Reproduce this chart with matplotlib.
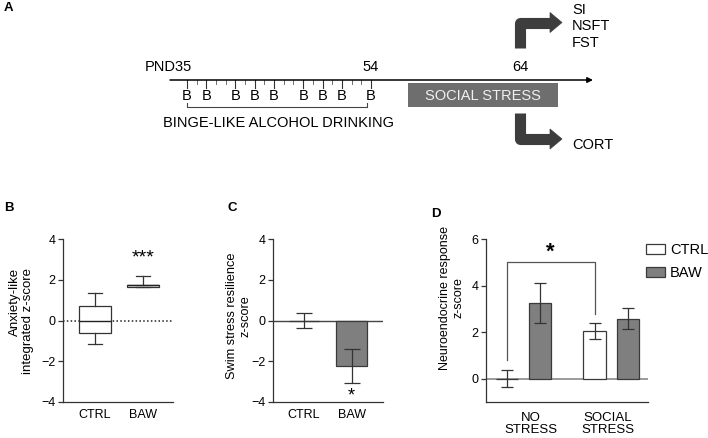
import matplotlib
matplotlib.use("Agg")
import matplotlib.pyplot as plt
from matplotlib.patches import Rectangle, Polygon, Patch
import numpy as np

plt.rcParams['font.family'] = ['Liberation Sans', 'DejaVu Sans']

# ---------------- data ----------------
# Panel A timeline
all_days = list(range(35, 55))
binge_days = [35, 37, 40, 42, 44, 47, 49, 51, 54]
timeline_labels = ["PND35", "54", "64"]
outcomes_top = ["SI", "NSFT", "FST"]
outcomes_bottom = ["CORT"]

# Panel B (box plot stats)
b_groups = ["CTRL", "BAW"]
b_med = [0.0, 1.72]
b_q1 = [-0.61, 1.64]
b_q3 = [0.71, 1.76]
b_lo = [-1.15, 1.62]
b_hi = [1.35, 2.18]

# Panel C
c_groups = ["CTRL", "BAW"]
c_mean = [0.0, -2.23]
c_sem = [0.37, 0.83]

# Panel D
d_groups = ["NO\nSTRESS", "SOCIAL\nSTRESS"]
d_ctrl_mean = [0.0, 2.04]
d_ctrl_sem = [0.37, 0.35]
d_baw_mean = [3.24, 2.58]
d_baw_sem = [0.86, 0.45]

GRAY = "#7f7f7f"
EDGE = "#3a3a3a"

fig = plt.figure(figsize=(7.08, 4.38), dpi=100)

# ---------------- Panel A (schematic) ----------------
axA = fig.add_axes([0, 1 - 200 / 438, 1, 200 / 438])
axA.set_xlim(0, 708)
axA.set_ylim(200, 0)
axA.axis("off")


def day_x(d):
    # schematic (not to scale) mapping of postnatal day to horizontal position
    if d <= 54:
        return 187 + (d - 35) * 9.68
    return 371 + (d - 54) * 14.9


FS_A = 10.5
line_y = 80
axA.annotate("", xy=(593, line_y), xytext=(170, line_y),
             arrowprops=dict(arrowstyle="-|>", lw=1.1, color="black",
                             mutation_scale=8, shrinkA=0, shrinkB=0))
for d in all_days:
    if d in binge_days:
        axA.plot([day_x(d)] * 2, [line_y, line_y + 8], color="#333333", lw=0.8)
        axA.text(day_x(d), 95.5, "B", ha="center", va="center", fontsize=FS_A)
    else:
        axA.plot([day_x(d)] * 2, [line_y, line_y + 4], color="#555555", lw=0.6)

axA.text(145, 67, timeline_labels[0], ha="left", va="center", fontsize=FS_A)
axA.text(day_x(54), 67, timeline_labels[1], ha="center", va="center", fontsize=FS_A)
axA.text(day_x(64), 67, timeline_labels[2], ha="center", va="center", fontsize=FS_A)

bx0, bx1 = day_x(35), day_x(54) - 4
axA.plot([bx0, bx0, bx1, bx1], [103, 107, 107, 103], color="#444444", lw=0.8)
axA.text((bx0 + bx1) / 2 + 2, 123, "BINGE-LIKE ALCOHOL DRINKING",
         ha="center", va="center", fontsize=FS_A)

axA.add_patch(Rectangle((408, 83), 150, 24, facecolor="#6e6e6e", edgecolor="none"))
axA.text(483, 95.5, "SOCIAL STRESS", ha="center", va="center", fontsize=FS_A,
         color="#f0f0f0")

AR = "#3d3d3d"
ex = day_x(64)
axA.plot([ex, ex, 551], [48, 22.5, 22.5], color=AR, lw=8,
         solid_joinstyle="round", solid_capstyle="butt")
axA.add_patch(Polygon([[550, 12.5], [562, 22.5], [550, 32.5]], closed=True,
                      facecolor=AR, edgecolor=AR, lw=0.5))
axA.plot([ex, ex, 551], [113, 139, 139], color=AR, lw=8,
         solid_joinstyle="round", solid_capstyle="butt")
axA.add_patch(Polygon([[550, 129], [562, 139], [550, 149]], closed=True,
                      facecolor=AR, edgecolor=AR, lw=0.5))
for i, t in enumerate(outcomes_top):
    axA.text(572, 10 + i * 16.5, t, ha="left", va="center", fontsize=FS_A)
axA.text(572, 145, outcomes_bottom[0], ha="left", va="center", fontsize=FS_A)

# panel letters
fig.text(4 / 708, 1 - 8 / 438, "A", fontsize=9.5, fontweight="bold", va="center")
fig.text(4 / 708, 1 - 208 / 438, "B", fontsize=9.5, fontweight="bold", va="center")
fig.text(227 / 708, 1 - 208 / 438, "C", fontsize=9.5, fontweight="bold", va="center")
fig.text(431 / 708, 1 - 214 / 438, "D", fontsize=9.5, fontweight="bold", va="center")


def style_axes(ax):
    for s in ["top", "right"]:
        ax.spines[s].set_visible(False)
    for s in ["left", "bottom"]:
        ax.spines[s].set_linewidth(0.9)
        ax.spines[s].set_color("#333333")
    ax.tick_params(axis="y", length=3.5, width=0.9, labelsize=9, pad=2,
                   color="#333333")
    ax.tick_params(axis="x", length=0, labelsize=9, pad=5)


bottom = 1 - 402 / 438
height = 163 / 438

# ---------------- Panel B ----------------
axB = fig.add_axes([63 / 708, bottom, 110 / 708, height])
stats = []
for i in range(len(b_groups)):
    stats.append(dict(med=b_med[i], q1=b_q1[i], q3=b_q3[i], whislo=b_lo[i],
                      whishi=b_hi[i], fliers=[], label=b_groups[i]))
axB.axhline(0, ls=(0, (1, 1.5)), color="#222222", lw=1.1, zorder=1)
axB.bxp(stats, positions=[1, 2], widths=0.65, capwidths=0.31, showfliers=False,
        patch_artist=True,
        boxprops=dict(facecolor="white", edgecolor="#333333", lw=0.9),
        medianprops=dict(color="#222222", lw=1.0),
        whiskerprops=dict(color="#333333", lw=0.9),
        capprops=dict(color="#333333", lw=0.9), zorder=3)
axB.set_xlim(0.333, 2.625)
axB.set_ylim(-4, 4)
axB.set_yticks([-4, -2, 0, 2, 4])
axB.set_xticks([1, 2])
axB.set_xticklabels(b_groups)
style_axes(axB)
axB.text(2, 3.06, "***", ha="center", va="center", fontsize=14)
axB.set_ylabel("Anxiety-like\nintegrated z-score", fontsize=9.5,
               multialignment="right", linespacing=1.2)
axB.yaxis.set_label_coords(-0.26, 0.5)

# ---------------- Panel C ----------------
axC = fig.add_axes([273 / 708, bottom, 110 / 708, height])
cx = np.arange(1, len(c_groups) + 1)
axC.axhline(0, color="#444444", lw=1.0, zorder=1)
axC.bar(cx, c_mean, width=0.65, color=["white", GRAY], edgecolor=EDGE,
        lw=0.9, zorder=2)
axC.errorbar(cx, c_mean, yerr=c_sem, fmt="none", ecolor="#333333",
             elinewidth=0.9, capsize=5.8, capthick=0.9, zorder=3)
axC.set_xlim(0.347, 2.663)
axC.set_ylim(-4, 4)
axC.set_yticks([-4, -2, 0, 2, 4])
axC.set_xticks(cx)
axC.set_xticklabels(c_groups)
style_axes(axC)
axC.text(2, -3.72, "*", ha="center", va="center", fontsize=13)
axC.set_ylabel("Swim stress resilience\nz-score", fontsize=9.2,
               linespacing=1.15)
axC.yaxis.set_label_coords(-0.195, 0.53)

# ---------------- Panel D ----------------
axD = fig.add_axes([486 / 708, bottom, 162 / 708, height])
gpos = np.array([0.0, 2.65])
w = 0.667
axD.axhline(0, color="#8a8a8a", lw=1.2, zorder=1)
axD.bar(gpos, d_ctrl_mean, width=w, color="white", edgecolor=EDGE, lw=0.9,
        zorder=2, label="CTRL")
axD.bar(gpos + 1, d_baw_mean, width=w, color=GRAY, edgecolor=EDGE, lw=0.9,
        zorder=2, label="BAW")
axD.errorbar(gpos, d_ctrl_mean, yerr=d_ctrl_sem, fmt="none", ecolor="#333333",
             elinewidth=0.9, capsize=4.2, capthick=0.9, zorder=3)
axD.errorbar(gpos + 1, d_baw_mean, yerr=d_baw_sem, fmt="none", ecolor="#333333",
             elinewidth=0.9, capsize=4.2, capthick=0.9, zorder=3)
axD.set_xlim(-0.636, 4.27)
axD.set_ylim(-1, 6)
axD.set_yticks([0, 2, 4, 6])
axD.set_xticks([0.73, 3.06])
axD.set_xticklabels(d_groups, linespacing=1.0)
style_axes(axD)
axD.tick_params(axis="x", labelsize=9.5, pad=7)
# significance bracket between CTRL groups
axD.plot([gpos[0], gpos[0], gpos[1], gpos[1]], [0.8, 5.0, 5.0, 2.8],
         color="#555555", lw=0.9)
axD.text(gpos.mean(), 5.45, "*", ha="center", va="center", fontsize=16,
         fontweight="bold")
axD.set_ylabel("Neuroendocrine response\nz-score", fontsize=9, linespacing=1.2)
axD.yaxis.set_label_coords(-0.13, 0.64)
handles = [Patch(facecolor="white", edgecolor=EDGE, lw=0.9),
           Patch(facecolor=GRAY, edgecolor=EDGE, lw=0.9)]
fig.legend(handles, ["CTRL", "BAW"], loc="upper left",
           bbox_to_anchor=(646 / 708, 1 - 243 / 438),
           bbox_transform=fig.transFigure, frameon=False, fontsize=10.5,
           borderpad=0, borderaxespad=0, handlelength=1.3, handleheight=0.7,
           handletextpad=0.35, labelspacing=0.65)

fig.savefig("out.png", dpi=100)
